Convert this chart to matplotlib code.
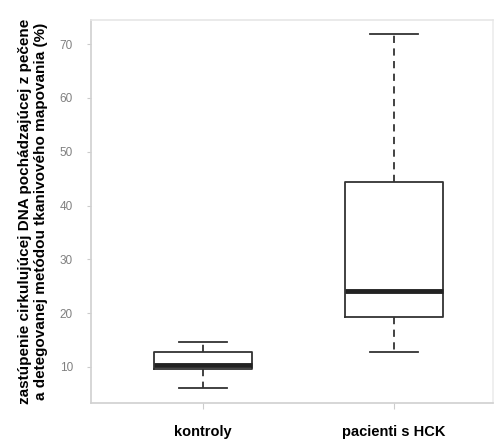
import numpy as np
import matplotlib.pyplot as plt

# box statistics (%)
groups = ["kontroly", "pacienti s HCK"]
whisker_low = [6.1, 12.7]
q1 = [9.7, 19.2]
median = [10.4, 24.2]
q3 = [12.8, 44.3]
whisker_high = [14.7, 71.9]
yticks = [10, 20, 30, 40, 50, 60, 70]

stats = []
for i, name in enumerate(groups):
    stats.append({"label": name, "whislo": whisker_low[i], "q1": q1[i], "med": median[i],
                  "q3": q3[i], "whishi": whisker_high[i], "fliers": []})

fig = plt.figure(figsize=(4.98, 4.44), dpi=100)
ax = fig.add_axes([0.1827, 0.0923, 0.8073, 0.8627])

ax.bxp(stats, positions=[1, 2], widths=0.51, showfliers=False,
       boxprops=dict(color="#333333", linewidth=1.3),
       medianprops=dict(color="#222222", linewidth=3.5),
       whiskerprops=dict(color="#333333", linewidth=1.3, linestyle=(0, (4, 3))),
       capprops=dict(color="#333333", linewidth=1.3),
       capwidths=0.25)

ax.set_xlim(0.414, 2.518)
ax.set_ylim(3.3, 74.5)
ax.set_yticks(yticks)
ax.set_xticks([1, 2])
ax.set_xticklabels(groups, fontsize=10.5, fontweight="bold",
                   family=["Liberation Sans", "DejaVu Sans"])
ax.tick_params(axis="x", length=4, color="#cccccc", pad=12)
ax.tick_params(axis="y", length=3, color="#cccccc", labelcolor="#808080", labelsize=8.5, pad=10)
for lab in ax.get_yticklabels():
    lab.set_family(["Liberation Sans", "DejaVu Sans"])

for s in ax.spines.values():
    s.set_color("#d0d0d0")
    s.set_linewidth(1.2)
ax.spines["top"].set_color("#e6e6e6")
ax.spines["right"].set_color("#ececec")

fig.text(0.066, 0.525, "zastúpenie cirkulujúcej DNA pochádzajúcej z pečene\n"
         "a detegovanej metódou tkanivového mapovania (%)",
         rotation=90, ha="center", va="center", fontsize=11, fontweight="bold",
         family=["Liberation Sans", "DejaVu Sans"], linespacing=1.2)

fig.savefig("out.png", dpi=100)
